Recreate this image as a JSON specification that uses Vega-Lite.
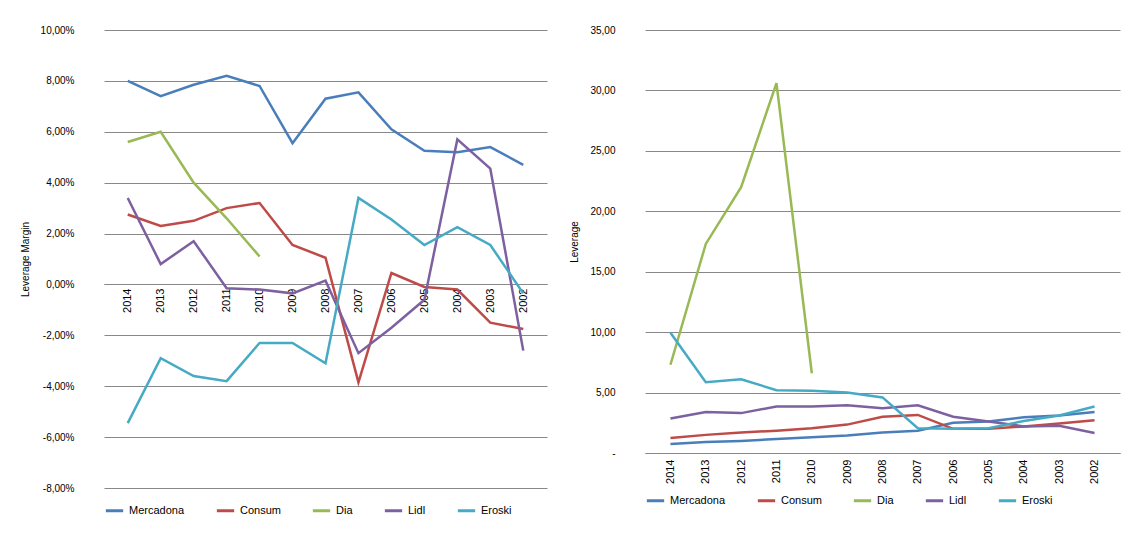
{
"$schema":"https://vega.github.io/schema/vega-lite/v6.json",
"background":"white",
"padding":{"left":20,"top":25,"right":5,"bottom":5},
"config":{"font":"Liberation Sans","view":{"stroke":null},"axis":{"labelFontSize":10,"titleFontSize":10,"titleFontWeight":"normal","labelColor":"#000","titleColor":"#000","domainColor":"#888","tickColor":"#888","gridColor":"#888","labelOverlap":false},"legend":{"labelFontSize":11,"labelColor":"#000"}},
"datasets":{
"lm":[
{"y":"2014","s":"Mercadona","v":0.080},{"y":"2013","s":"Mercadona","v":0.074},{"y":"2012","s":"Mercadona","v":0.0785},{"y":"2011","s":"Mercadona","v":0.082},{"y":"2010","s":"Mercadona","v":0.078},{"y":"2009","s":"Mercadona","v":0.0555},{"y":"2008","s":"Mercadona","v":0.073},{"y":"2007","s":"Mercadona","v":0.0755},{"y":"2006","s":"Mercadona","v":0.061},{"y":"2005","s":"Mercadona","v":0.0525},{"y":"2004","s":"Mercadona","v":0.052},{"y":"2003","s":"Mercadona","v":0.054},{"y":"2002","s":"Mercadona","v":0.047},
{"y":"2014","s":"Consum","v":0.0275},{"y":"2013","s":"Consum","v":0.023},{"y":"2012","s":"Consum","v":0.025},{"y":"2011","s":"Consum","v":0.030},{"y":"2010","s":"Consum","v":0.032},{"y":"2009","s":"Consum","v":0.0155},{"y":"2008","s":"Consum","v":0.0105},{"y":"2007","s":"Consum","v":-0.0385},{"y":"2006","s":"Consum","v":0.0045},{"y":"2005","s":"Consum","v":-0.001},{"y":"2004","s":"Consum","v":-0.002},{"y":"2003","s":"Consum","v":-0.015},{"y":"2002","s":"Consum","v":-0.0175},
{"y":"2014","s":"Dia","v":0.056},{"y":"2013","s":"Dia","v":0.060},{"y":"2012","s":"Dia","v":0.040},{"y":"2011","s":"Dia","v":0.026},{"y":"2010","s":"Dia","v":0.011},
{"y":"2014","s":"Lidl","v":0.034},{"y":"2013","s":"Lidl","v":0.008},{"y":"2012","s":"Lidl","v":0.017},{"y":"2011","s":"Lidl","v":-0.0015},{"y":"2010","s":"Lidl","v":-0.002},{"y":"2009","s":"Lidl","v":-0.0035},{"y":"2008","s":"Lidl","v":0.0015},{"y":"2007","s":"Lidl","v":-0.027},{"y":"2006","s":"Lidl","v":-0.017},{"y":"2005","s":"Lidl","v":-0.006},{"y":"2004","s":"Lidl","v":0.057},{"y":"2003","s":"Lidl","v":0.0455},{"y":"2002","s":"Lidl","v":-0.026},
{"y":"2014","s":"Eroski","v":-0.0545},{"y":"2013","s":"Eroski","v":-0.029},{"y":"2012","s":"Eroski","v":-0.036},{"y":"2011","s":"Eroski","v":-0.038},{"y":"2010","s":"Eroski","v":-0.023},{"y":"2009","s":"Eroski","v":-0.023},{"y":"2008","s":"Eroski","v":-0.031},{"y":"2007","s":"Eroski","v":0.034},{"y":"2006","s":"Eroski","v":0.0255},{"y":"2005","s":"Eroski","v":0.0155},{"y":"2004","s":"Eroski","v":0.0225},{"y":"2003","s":"Eroski","v":0.0155},{"y":"2002","s":"Eroski","v":-0.0035}
],
"lv":[
{"y":"2014","s":"Mercadona","v":0.75},{"y":"2013","s":"Mercadona","v":0.9},{"y":"2012","s":"Mercadona","v":1.0},{"y":"2011","s":"Mercadona","v":1.15},{"y":"2010","s":"Mercadona","v":1.3},{"y":"2009","s":"Mercadona","v":1.45},{"y":"2008","s":"Mercadona","v":1.7},{"y":"2007","s":"Mercadona","v":1.85},{"y":"2006","s":"Mercadona","v":2.5},{"y":"2005","s":"Mercadona","v":2.6},{"y":"2004","s":"Mercadona","v":2.95},{"y":"2003","s":"Mercadona","v":3.1},{"y":"2002","s":"Mercadona","v":3.4},
{"y":"2014","s":"Consum","v":1.25},{"y":"2013","s":"Consum","v":1.5},{"y":"2012","s":"Consum","v":1.7},{"y":"2011","s":"Consum","v":1.85},{"y":"2010","s":"Consum","v":2.05},{"y":"2009","s":"Consum","v":2.35},{"y":"2008","s":"Consum","v":3.0},{"y":"2007","s":"Consum","v":3.15},{"y":"2006","s":"Consum","v":2.0},{"y":"2005","s":"Consum","v":2.0},{"y":"2004","s":"Consum","v":2.2},{"y":"2003","s":"Consum","v":2.45},{"y":"2002","s":"Consum","v":2.7},
{"y":"2014","s":"Dia","v":7.3},{"y":"2013","s":"Dia","v":17.3},{"y":"2012","s":"Dia","v":22.0},{"y":"2011","s":"Dia","v":30.6},{"y":"2010","s":"Dia","v":6.6},
{"y":"2014","s":"Lidl","v":2.85},{"y":"2013","s":"Lidl","v":3.4},{"y":"2012","s":"Lidl","v":3.3},{"y":"2011","s":"Lidl","v":3.85},{"y":"2010","s":"Lidl","v":3.85},{"y":"2009","s":"Lidl","v":3.95},{"y":"2008","s":"Lidl","v":3.7},{"y":"2007","s":"Lidl","v":3.95},{"y":"2006","s":"Lidl","v":3.0},{"y":"2005","s":"Lidl","v":2.6},{"y":"2004","s":"Lidl","v":2.2},{"y":"2003","s":"Lidl","v":2.25},{"y":"2002","s":"Lidl","v":1.65},
{"y":"2014","s":"Eroski","v":9.95},{"y":"2013","s":"Eroski","v":5.85},{"y":"2012","s":"Eroski","v":6.1},{"y":"2011","s":"Eroski","v":5.2},{"y":"2010","s":"Eroski","v":5.15},{"y":"2009","s":"Eroski","v":5.0},{"y":"2008","s":"Eroski","v":4.6},{"y":"2007","s":"Eroski","v":2.05},{"y":"2006","s":"Eroski","v":2.0},{"y":"2005","s":"Eroski","v":2.05},{"y":"2004","s":"Eroski","v":2.65},{"y":"2003","s":"Eroski","v":3.1},{"y":"2002","s":"Eroski","v":3.85}
]},
"resolve":{"legend":{"color":"independent"},"scale":{"color":"independent"}},
"spacing":22,
"hconcat":[
{"width":443,"height":458,"data":{"name":"lm"},"mark":{"type":"line","strokeWidth":2.5},
"encoding":{
"x":{"field":"y","type":"ordinal","sort":"descending","scale":{"type":"point","padding":0.72},"axis":{"title":null,"labelAngle":-90,"offset":-204,"domain":true,"ticks":false,"grid":false,"labelPadding":4,"labelFontSize":11}},
"y":{"field":"v","type":"quantitative","scale":{"domain":[-0.08,0.1],"nice":false},"axis":{"title":"Leverage Margin","values":[-0.08,-0.06,-0.04,-0.02,0,0.02,0.04,0.06,0.08,0.1],"labelExpr":"replace(replace(format(datum.value,'.2%'),'.',','),'\u2212','-')","domain":false,"ticks":false,"labelPadding":30,"titlePadding":10}},
"color":{"field":"s","type":"nominal","sort":["Mercadona","Consum","Dia","Lidl","Eroski"],"scale":{"range":["#4a7ebb","#be4b48","#98b954","#7d60a0","#46aac5"]},"legend":{"orient":"bottom","direction":"horizontal","title":null,"symbolType":"stroke","symbolStrokeWidth":3,"symbolSize":300,"columnPadding":25,"offset":12}}}},
{"width":475,"height":423,"data":{"name":"lv"},"mark":{"type":"line","strokeWidth":2.5},
"encoding":{
"x":{"field":"y","type":"ordinal","sort":"descending","scale":{"type":"point","padding":0.72},"axis":{"title":null,"labelAngle":-90,"ticks":false,"grid":false,"labelPadding":6,"labelFontSize":11}},
"y":{"field":"v","type":"quantitative","scale":{"domain":[0,35],"nice":false},"axis":{"title":"Leverage","values":[0,5,10,15,20,25,30,35],"labelExpr":"datum.value==0?'-':replace(format(datum.value,'.2f'),'.',',')","domain":false,"ticks":false,"labelPadding":30,"titlePadding":10}},
"color":{"field":"s","type":"nominal","sort":["Mercadona","Consum","Dia","Lidl","Eroski"],"scale":{"range":["#4a7ebb","#be4b48","#98b954","#7d60a0","#46aac5"]},"legend":{"orient":"bottom","direction":"horizontal","title":null,"symbolType":"stroke","symbolStrokeWidth":3,"symbolSize":300,"columnPadding":25,"offset":6}}}}
]}
